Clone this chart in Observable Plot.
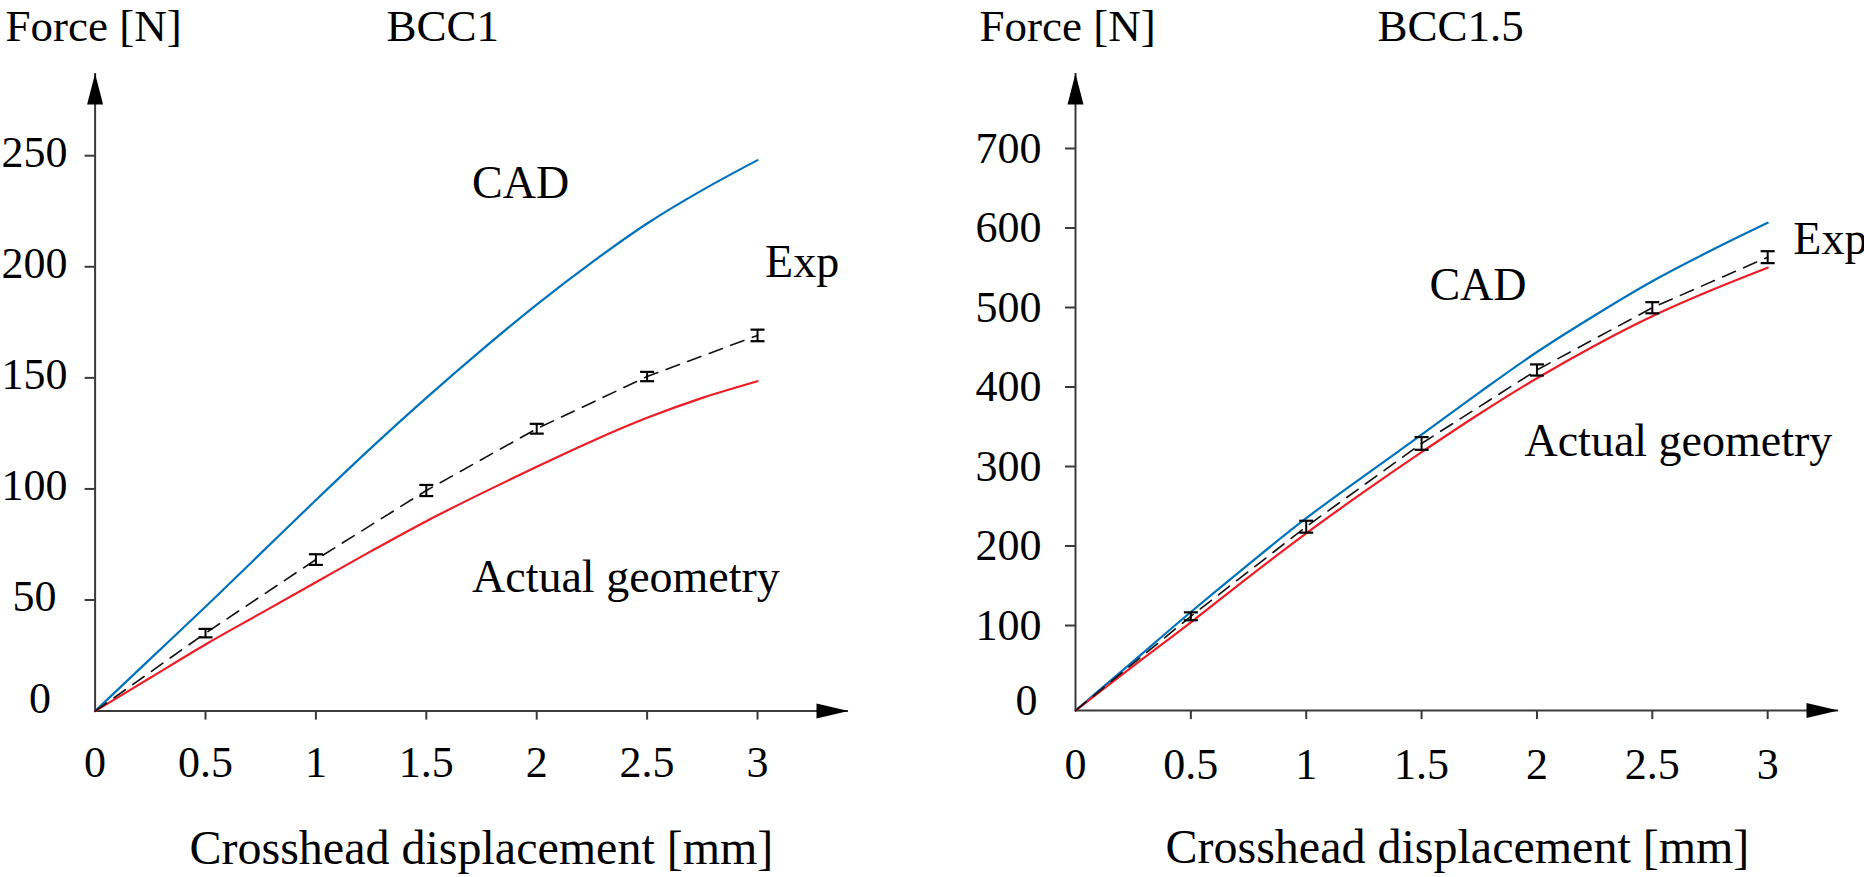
<!DOCTYPE html>
<html>
<head>
<meta charset="utf-8">
<script src="https://cdn.jsdelivr.net/npm/d3@7"></script>
<script src="https://cdn.jsdelivr.net/npm/@observablehq/plot@0.6"></script>
<style>
  html, body { margin: 0; padding: 0; background: #fff; }
  #chart { display: flex; width: 1864px; height: 877px; }
</style>
</head>
<body>
<div id="chart"></div>
<script>
// ---------- data ----------
const curveDisp   = [0, 0.25, 0.5, 0.75, 1, 1.25, 1.5, 1.75, 2, 2.25, 2.5, 2.75, 3];
const bcc1Cad     = [0, 23.5, 47, 71, 95, 118.5, 141, 162.5, 183, 202, 219.5, 234.5, 248];
const bcc1Actual  = [0, 15, 30, 44, 58, 72, 85.5, 98, 110, 121.5, 132, 141, 148.5];
const bcc15Cad    = [-7, 55, 117, 177, 235, 288, 340, 393, 444, 490, 533, 571, 606.5];
const bcc15Actual = [-7, 49, 104, 161, 216, 268, 318, 366, 411, 452, 489, 521, 550];

const expDisp     = [0, 0.5, 1, 1.5, 2, 2.5, 3];
const bcc1Exp     = [0, 35.1, 68.2, 99.3, 127.1, 150.6, 169.1];
const bcc1ExpErr  = [0, 1.9, 2.4, 2.5, 2.2, 2.1, 2.6];
const bcc15Exp    = [-7, 111.6, 224.3, 329, 421.4, 499.7, 563.3];
const bcc15ExpErr = [0, 5, 7.5, 8, 7, 7, 7.5];

const xTicks      = [0, 0.5, 1, 1.5, 2, 2.5, 3];
const bcc1YTicks  = [0, 50, 100, 150, 200, 250];
const bcc15YTicks = [0, 100, 200, 300, 400, 500, 600, 700];

const panelTitles = ["BCC1", "BCC1.5"];
const yAxisLabel  = "Force [N]";
const xAxisLabel  = "Crosshead displacement [mm]";
const seriesNames = ["CAD", "Exp", "Actual geometry"];

// ---------- styles ----------
const FONT  = "'Liberation Serif', 'Times New Roman', serif";
const BLUE  = "#0072BD";
const RED   = "#EE1C25";
const AXIS  = "#3a3a3a";

const arrowUp    = {draw(c) { c.moveTo(0, 0); c.lineTo(8, 31); c.lineTo(-8, 31); c.closePath(); }};
const arrowRight = {draw(c) { c.moveTo(0, 0); c.lineTo(-32, 7.5); c.lineTo(-32, -7.5); c.closePath(); }};
const cap        = {draw(c) { c.moveTo(-7, 0); c.lineTo(7, 0); }};

function panel(cfg) {
  const curves = curveDisp.map((x, i) => ({x, cad: cfg.cad[i], act: cfg.act[i]}));
  const exp = expDisp.map((x, i) => ({x, f: cfg.exp[i], err: cfg.err[i],
                                      lo: cfg.exp[i] - cfg.err[i], hi: cfg.exp[i] + cfg.err[i]}));
  const bars = exp.filter(d => d.err > 0);
  const [y0, yMax] = cfg.yDomain;
  const xMax = cfg.xDomain[1];
  const lbl = cfg.labels;

  return Plot.plot({
    width: 932,
    height: 877,
    marginLeft: cfg.ml,
    marginRight: cfg.mr,
    marginTop: 73,
    marginBottom: cfg.mb,
    x: {domain: cfg.xDomain},
    y: {domain: cfg.yDomain},
    style: {fontFamily: FONT, fontSize: "44px", color: "#000", background: "#fff", overflow: "visible"},
    marks: [
      // axis lines with arrowheads
      Plot.ruleY([y0], {x1: 0, x2: xMax, stroke: AXIS, strokeWidth: 2}),
      Plot.ruleX([0], {y1: y0, y2: yMax, stroke: AXIS, strokeWidth: 2}),
      Plot.dot([0], {x: 0, y: yMax, symbol: arrowUp, fill: "#000", stroke: "none"}),
      Plot.dot([0], {x: xMax, y: y0, symbol: arrowRight, fill: "#000", stroke: "none"}),
      // tick marks
      Plot.axisY(cfg.yTicks.filter(v => v > 0), {anchor: "left", tickSize: 10, stroke: AXIS, strokeWidth: 2, fill: "none", label: null}),
      Plot.axisX(xTicks.filter(v => v > 0), {anchor: "bottom", tickSize: 9, stroke: AXIS, strokeWidth: 2, fill: "none", label: null}),
      // curves
      Plot.line(curves, {x: "x", y: "cad", stroke: BLUE, strokeWidth: 2.2, curve: "catmull-rom"}),
      Plot.line(curves, {x: "x", y: "act", stroke: RED, strokeWidth: 2.2, curve: "catmull-rom"}),
      Plot.line(exp, {x: "x", y: "f", stroke: "#111", strokeWidth: 1.6, strokeDasharray: "14,9"}),
      // error bars
      Plot.ruleX(bars, {x: "x", y1: "lo", y2: "hi", stroke: "#000", strokeWidth: 2}),
      Plot.dot(bars, {x: "x", y: "lo", symbol: cap, stroke: "#000", strokeWidth: 2.2, fill: "none"}),
      Plot.dot(bars, {x: "x", y: "hi", symbol: cap, stroke: "#000", strokeWidth: 2.2, fill: "none"}),
      // tick labels
      Plot.text(cfg.yTicks.filter(v => v > 0), {x: 0, y: d => d, text: d => String(d),
        textAnchor: cfg.yAnchor, lineAnchor: "middle", dx: cfg.yDx, dy: cfg.yDy, fontSize: 44, fill: "#000"}),
      Plot.text([0], {x: 0, y: 0, text: d => String(d),
        textAnchor: cfg.yAnchor, lineAnchor: "middle", dx: cfg.zeroDx, dy: cfg.zeroDy, fontSize: 44, fill: "#000"}),
      Plot.text(xTicks, {x: d => d, y: y0, text: d => String(d),
        textAnchor: "middle", lineAnchor: "bottom", dy: cfg.xDy, fontSize: 44, fill: "#000"}),
      // axis titles and panel title
      Plot.text([yAxisLabel], {frameAnchor: "top-left", text: d => d, textAnchor: "start", lineAnchor: "bottom",
        dx: cfg.yTitleDx, dy: -33, fontSize: 45, fill: "#000"}),
      Plot.text([cfg.title], {frameAnchor: "top-left", text: d => d, textAnchor: "start", lineAnchor: "bottom",
        dx: cfg.titleDx, dy: -33, fontSize: 45, fill: "#000"}),
      Plot.text([xAxisLabel], {frameAnchor: "bottom-left", text: d => d, textAnchor: "start", lineAnchor: "bottom",
        dx: cfg.xTitleDx, dy: cfg.xTitleDy, fontSize: 48, fill: "#000"}),
      // series labels
      Plot.text([seriesNames[0]], {x: lbl.cad[0], y: lbl.cad[1], text: d => d, textAnchor: "start", lineAnchor: "bottom", fontSize: 46, fill: "#000"}),
      Plot.text([seriesNames[1]], {x: lbl.exp[0], y: lbl.exp[1], text: d => d, textAnchor: "start", lineAnchor: "bottom", fontSize: 46, fill: "#000"}),
      Plot.text([seriesNames[2]], {x: lbl.act[0], y: lbl.act[1], text: d => d, textAnchor: "start", lineAnchor: "bottom", fontSize: 46, fill: "#000"})
    ]
  });
}

const left = panel({
  title: panelTitles[0],
  cad: bcc1Cad, act: bcc1Actual, exp: bcc1Exp, err: bcc1ExpErr,
  yTicks: bcc1YTicks,
  xDomain: [0, 3.412], yDomain: [0, 287],
  ml: 94.6, mr: 84, mb: 166.4,
  yAnchor: "middle", yDx: -60.6, yDy: -3, zeroDx: -55, zeroDy: -12.5,
  xDy: 66,
  yTitleDx: -89.6, titleDx: 291.4,
  xTitleDx: 94.4, xTitleDy: 152.5,
  labels: {cad: [1.707, 230.9], exp: [3.034, 195.6], act: [1.707, 53.4]}
});

const right = panel({
  title: panelTitles[1],
  cad: bcc15Cad, act: bcc15Actual, exp: bcc15Exp, err: bcc15ExpErr,
  yTicks: bcc15YTicks,
  xDomain: [0, 3.307], yDomain: [-7, 794.3],
  ml: 143, mr: 26, mb: 166.9,
  yAnchor: "end", yDx: -34, yDy: 0, zeroDx: -38, zeroDy: -4.5,
  xDy: 68,
  yTitleDx: -96, titleDx: 302,
  xTitleDx: 90, xTitleDy: 151.9,
  labels: {cad: [1.534, 510], exp: [3.111, 567.9], act: [1.946, 313.8]}
});

const host = document.getElementById("chart");
host.appendChild(left);
host.appendChild(right);
</script>
</body>
</html>
